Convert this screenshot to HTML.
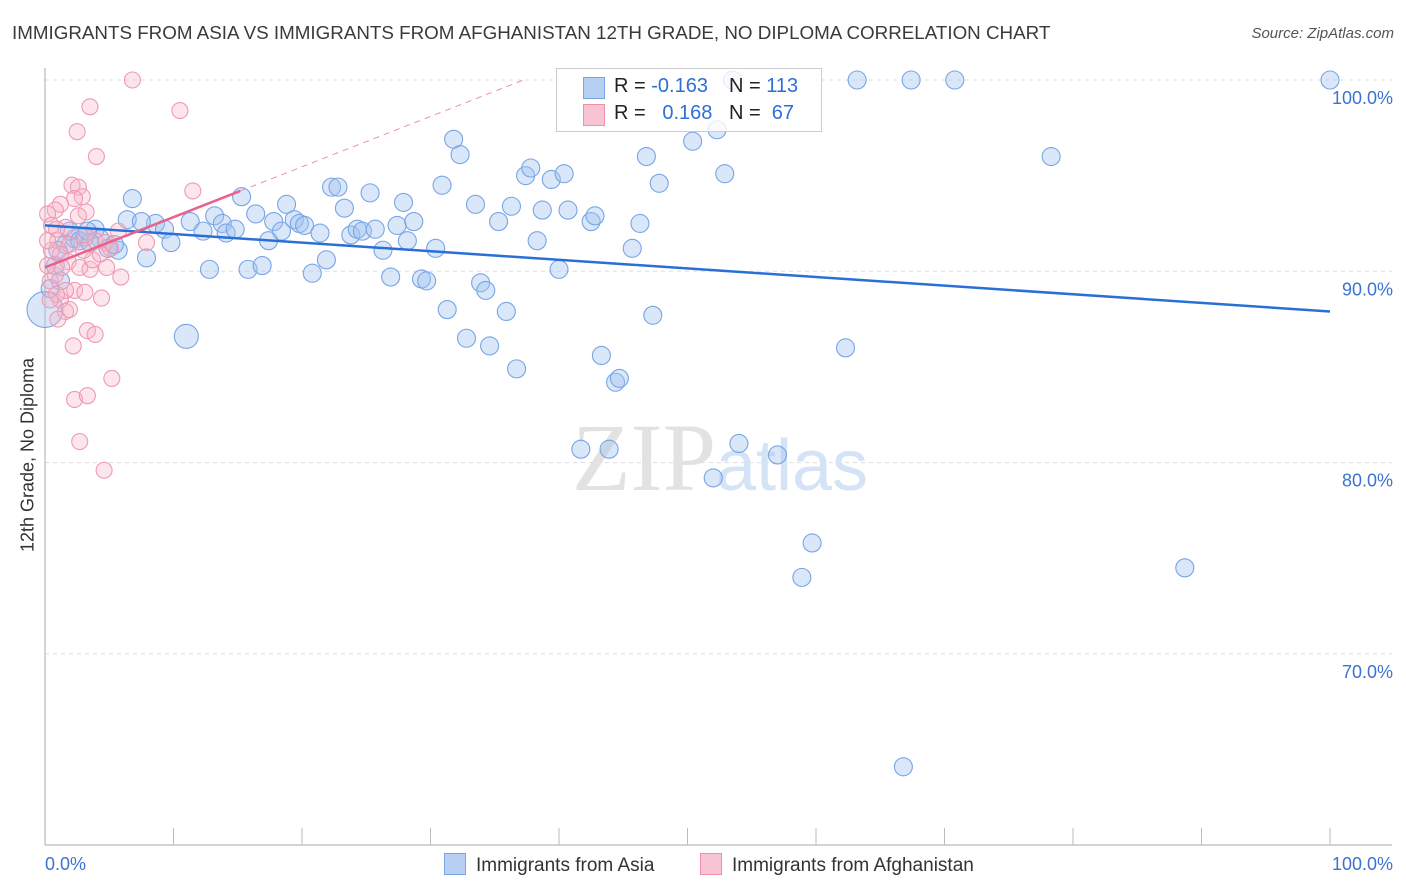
<!DOCTYPE html>
<html><head><meta charset="utf-8">
<style>
body{margin:0;background:#fff;font-family:"Liberation Sans",sans-serif;}
#wrap{position:relative;width:1406px;height:892px;overflow:hidden;}
.t{position:absolute;white-space:nowrap;}
</style></head>
<body>
<div id="wrap">
<div class="t" style="left:12px;top:22px;font-size:18.8px;color:#3a3a3a;">IMMIGRANTS FROM ASIA VS IMMIGRANTS FROM AFGHANISTAN 12TH GRADE, NO DIPLOMA CORRELATION CHART</div>
<div class="t" style="right:12px;top:25px;font-size:15px;color:#555;font-style:italic;">Source: ZipAtlas.com</div>
<svg id="svg" width="1406" height="892" style="position:absolute;left:0;top:0"></svg>
<div class="t" style="left:28px;top:455px;font-size:18px;color:#333;transform:translate(-50%,-50%) rotate(-90deg);">12th Grade, No Diploma</div>
<div style="position:absolute;left:556px;top:68px;width:264px;height:62px;border:1px solid #ccc;background:rgba(255,255,255,0.8);font-size:20px;">
 <div style="position:absolute;left:26px;top:8px;width:20px;height:20px;background:#b7cff3;border:1px solid #7aa6e6;"></div>
 <div class="t" style="left:57px;top:6px;color:#222">R = <span style="color:#2e6fd6">-0.163</span></div>
 <div class="t" style="left:172px;top:6px;color:#222">N = <span style="color:#2e6fd6">113</span></div>
 <div style="position:absolute;left:26px;top:35px;width:20px;height:20px;background:#f8c3d3;border:1px solid #ee8fab;"></div>
 <div class="t" style="left:57px;top:33px;color:#222">R = <span style="color:#2e6fd6">&nbsp;&nbsp;0.168</span></div>
 <div class="t" style="left:172px;top:33px;color:#222">N = <span style="color:#2e6fd6">&nbsp;67</span></div>
</div>
<div style="position:absolute;left:444px;top:853px;font-size:19px;color:#333;">
 <span style="display:inline-block;width:20px;height:20px;background:#b7cff3;border:1px solid #7aa6e6;vertical-align:-4px;margin-right:10px"></span>Immigrants from Asia</div>
<div style="position:absolute;left:700px;top:853px;font-size:19px;color:#333;">
 <span style="display:inline-block;width:20px;height:20px;background:#f8c3d3;border:1px solid #ee8fab;vertical-align:-4px;margin-right:10px"></span>Immigrants from Afghanistan</div>
</div>
<script>
const yTicks=[100,90,80,70];
const yTickLabels=["100.0%","90.0%","80.0%","70.0%"];
const xTickLabels=["0.0%","100.0%"];
const asiaX=[6.8,6.4,8.6,7.5,9.3,9.8,7.9,5.7,11.0,12.8,11.3,12.3,13.2,13.8,14.1,14.8,15.3,15.8,16.4,16.9,17.4,17.8,18.4,18.8,19.4,19.8,20.2,20.8,21.4,21.9,22.3,22.8,23.3,23.8,24.3,24.7,25.3,25.7,26.3,26.9,27.4,27.9,28.2,28.7,29.3,29.7,30.4,30.9,31.3,31.8,32.3,32.8,33.5,33.9,34.3,34.6,35.3,35.9,36.3,36.7,37.4,37.8,38.3,38.7,39.4,40.0,40.4,40.7,41.7,42.5,42.8,43.3,43.9,44.4,44.7,45.7,46.3,46.8,47.3,47.8,50.4,52.0,52.3,52.9,53.5,54.0,57.0,58.9,59.7,62.3,63.2,66.8,67.4,70.8,78.3,88.7,100,0,1.6,2.3,3.1,3.9,4.3,0.8,1.2,0.4,1.9,2.7,3.5,4.9,5.4,1.0,3.3];
const asiaY=[93.8,92.7,92.5,92.6,92.2,91.5,90.7,91.1,86.6,90.1,92.6,92.1,92.9,92.5,92.0,92.2,93.9,90.1,93.0,90.3,91.6,92.6,92.1,93.5,92.7,92.5,92.4,89.9,92.0,90.6,94.4,94.4,93.3,91.9,92.2,92.1,94.1,92.2,91.1,89.7,92.4,93.6,91.6,92.6,89.6,89.5,91.2,94.5,88.0,96.9,96.1,86.5,93.5,89.4,89.0,86.1,92.6,87.9,93.4,84.9,95.0,95.4,91.6,93.2,94.8,90.1,95.1,93.2,80.7,92.6,92.9,85.6,80.7,84.2,84.4,91.2,92.5,96.0,87.7,94.6,96.8,79.2,97.4,95.1,100,81.0,80.4,74.0,75.8,86.0,100,64.1,100,100,96.0,74.5,100,88.0,91.4,91.7,91.8,92.2,91.7,90.3,89.5,89.1,92.1,91.6,91.5,91.2,91.4,91.1,92.1];
const afgX=[6.8,3.5,2.5,10.5,4.0,11.5,2.1,2.6,2.9,3.2,2.3,1.2,0.8,0.2,0.5,1.6,1.0,1.9,3.1,3.9,4.7,5.1,5.7,7.9,1.8,2.7,3.5,2.3,3.1,4.4,1.2,1.6,0.4,0.8,0.2,5.9,4.8,3.3,3.9,2.2,5.2,2.3,3.3,2.7,4.6,1.2,1.3,0.5,0.9,3.7,4.3,0.2,1.6,1.9,0.9,0.4,1.0,2.6,3.0];
const afgY=[100,98.6,97.3,98.4,96.0,94.2,94.5,94.4,93.9,93.1,93.8,93.5,93.2,93.0,92.4,92.3,91.6,91.4,91.9,91.6,91.5,91.2,92.1,91.5,90.5,90.2,90.1,89.0,88.9,88.6,88.5,87.9,89.5,89.8,90.3,89.7,90.2,86.9,86.7,86.1,84.4,83.3,83.5,81.1,79.6,90.9,90.2,91.1,92.2,90.6,90.9,91.6,89.0,88.0,88.8,88.5,87.5,92.9,91.1];
const asiaTrend=[92.4,87.9];
const afgTrend=[90.2,94.2,15.2];

const NS="http://www.w3.org/2000/svg";
const svg=document.getElementById('svg');
const X0=45,X1=1330,YT=80,YPX=19.13;
const xs=v=>X0+(X1-X0)*v/100;
const ys=v=>YT+(100-v)*YPX;
function mk(tag,attrs,parent){const e=document.createElementNS(NS,tag);for(const k in attrs)e.setAttribute(k,attrs[k]);(parent||svg).appendChild(e);return e;}
yTicks.forEach((t,i)=>{
 const g=mk('line',{x1:X0,x2:1392,y1:ys(t),y2:ys(t),stroke:'#ddd','stroke-dasharray':'4,4'});
 
 
 const tx=mk('text',{x:1393,y:ys(t)+24,'text-anchor':'end','font-size':18,fill:'#3b73d1','font-family':'Liberation Sans'});
 tx.textContent=yTickLabels[i];
 
 
});
const ax=mk('line',{x1:X0,x2:X0,y1:68,y2:845,stroke:'#aaa'});


const bx=mk('line',{x1:X0,x2:1392,y1:845,y2:845,stroke:'#aaa'});


for(let i=1;i<=10;i++){const tk=mk('line',{x1:xs(i*10),x2:xs(i*10),y1:828,y2:845,stroke:'#bbb'});
 
 }
[[0,'start',45],[100,'end',1393]].forEach((a,i)=>{const t=mk('text',{x:a[2],y:870,'text-anchor':a[1],'font-size':18,fill:'#3b73d1','font-family':'Liberation Sans'});t.textContent=xTickLabels[i];
 
 });
const wm=mk('text',{x:720,y:490,'text-anchor':'middle','font-size':96,'font-family':'Liberation Serif',fill:'#e2e2e2'});
wm.innerHTML='ZIP<tspan font-family="Liberation Sans" font-size="72" fill="#d5e3f6">atlas</tspan>';


asiaX.forEach((x,i)=>{const big=(i==8)?12:(i==97?18:9);
 const c=mk('circle',{cx:xs(x),cy:ys(asiaY[i]),r:big,fill:'rgba(160,195,240,0.4)',stroke:'#78a5e6','stroke-width':1.1});
 
 });
afgX.forEach((x,i)=>{
 const c=mk('circle',{cx:xs(x),cy:ys(afgY[i]),r:8,fill:'rgba(246,180,200,0.35)',stroke:'#ef9ab3','stroke-width':1.1});
 
 });
const bl=mk('line',{x1:xs(0),y1:ys(asiaTrend[0]),x2:xs(100),y2:ys(asiaTrend[1]),stroke:'#2a6fd6','stroke-width':2.5});


const slope=(afgTrend[1]-afgTrend[0])/afgTrend[2];
const xEnd=(100-afgTrend[0])/slope;
const pd=mk('line',{x1:xs(afgTrend[2]),y1:ys(afgTrend[1]),x2:xs(xEnd),y2:ys(100),stroke:'#ec8fab','stroke-width':1,'stroke-dasharray':'6,5'});


const pl=mk('line',{x1:xs(0),y1:ys(afgTrend[0]),x2:xs(afgTrend[2]),y2:ys(afgTrend[1]),stroke:'#e8628d','stroke-width':2.5});


</script>
</body></html>
